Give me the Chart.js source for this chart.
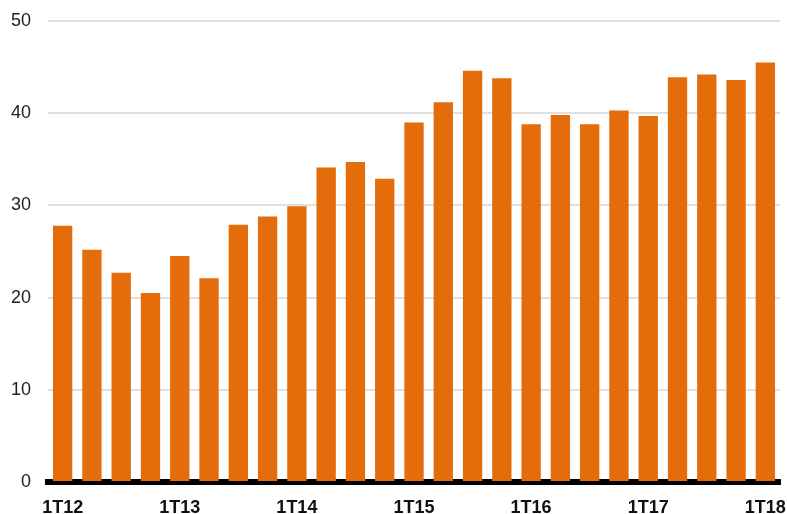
<!DOCTYPE html>
<html>
<head>
<meta charset="utf-8">
<script src="https://cdn.jsdelivr.net/npm/chart.js@4"></script>
<style>
  html, body { margin: 0; padding: 0; background: #fff; }
  #wrap { width: 787px; height: 514px; }
</style>
</head>
<body>
<div id="wrap"><canvas id="c" width="787" height="514"></canvas></div>
<script>
// Quarters from 1T12 to 1T18
const quarters = [
  '1T12','2T12','3T12','4T12',
  '1T13','2T13','3T13','4T13',
  '1T14','2T14','3T14','4T14',
  '1T15','2T15','3T15','4T15',
  '1T16','2T16','3T16','4T16',
  '1T17','2T17','3T17','4T17',
  '1T18'
];
const values = [
  27.8, 25.2, 22.7, 20.5,
  24.5, 22.1, 27.9, 28.8,
  29.9, 34.1, 34.7, 32.9,
  39.0, 41.2, 44.6, 43.8,
  38.8, 39.8, 38.8, 40.3,
  39.7, 43.9, 44.2, 43.6,
  45.5
];
const yTicks = [0, 10, 20, 30, 40, 50];

const font = "'Liberation Sans', Arial, Helvetica, sans-serif";

new Chart(document.getElementById('c'), {
  type: 'bar',
  data: {
    labels: quarters,
    datasets: [{
      data: values,
      backgroundColor: '#E46C0B',
      borderWidth: 0,
      barPercentage: 0.66,
      categoryPercentage: 1.0
    }]
  },
  options: {
    responsive: false,
    animation: false,
    devicePixelRatio: 1,
    layout: { padding: { top: 21, right: 7, left: 0, bottom: 0 } },
    plugins: { legend: { display: false }, tooltip: { enabled: false } },
    scales: {
      x: {
        z: 1,
        grid: { display: false, drawTicks: false },
        border: { display: true, color: '#000', width: 6 },
        ticks: {
          autoSkip: false,
          maxRotation: 0,
          padding: 15,
          color: '#111',
          font: { family: font, size: 18, weight: 'bold' },
          callback: function (v, i) { return i % 4 === 0 ? quarters[i] : ''; }
        },
        afterFit: function (s) { s.height = 32; s.paddingLeft = 0; s.paddingRight = 0; }
      },
      y: {
        min: 0,
        max: 50,
        afterBuildTicks: function (s) { s.ticks = yTicks.map(v => ({ value: v })); },
        grid: { color: '#e0e0e0', lineWidth: 2, drawTicks: false },
        border: { display: false },
        ticks: {
          padding: 17,
          color: '#222',
          font: { family: font, size: 18 }
        },
        afterFit: function (s) { s.width = 48; s.paddingTop = 0; s.paddingBottom = 0; }
      }
    }
  }
});
</script>
</body>
</html>
